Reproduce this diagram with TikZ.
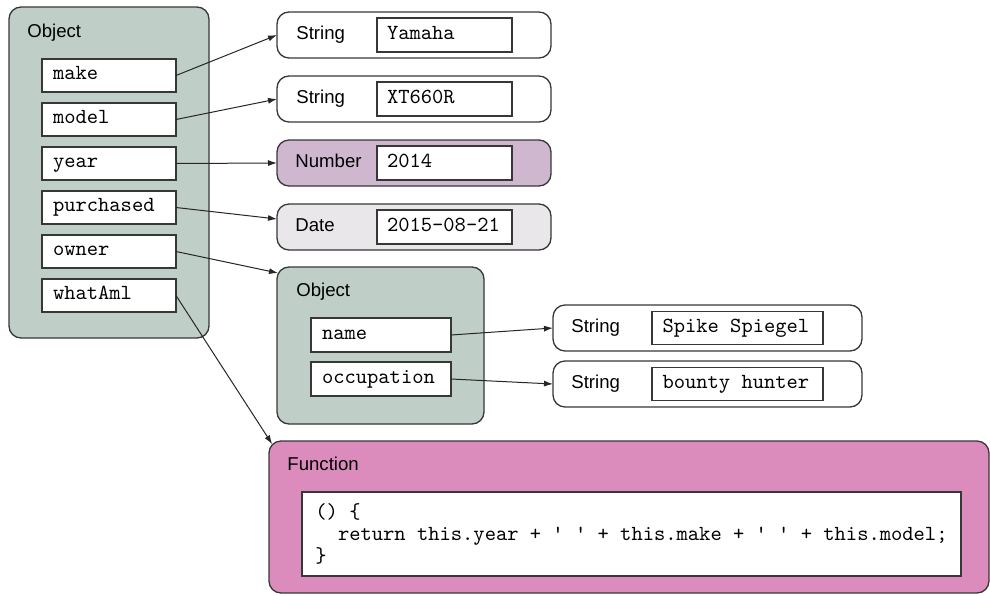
\documentclass[tikz,border=0pt]{standalone}
\usepackage{fontspec}
\setmainfont{Liberation Sans}
\setsansfont{Liberation Sans}
\usepackage{tikz}
\usetikzlibrary{arrows.meta,positioning}
\definecolor{objgreen}{RGB}{191,207,199}
\definecolor{numpurple}{RGB}{207,184,207}
\definecolor{dategray}{RGB}{233,231,233}
\definecolor{funcpink}{RGB}{219,140,188}
\definecolor{edgedark}{RGB}{55,55,55}
\newcommand{\labelfont}{\fontsize{9.3}{11}\selectfont\sffamily}
\newcommand{\monofont}{\fontsize{10.75}{11}\selectfont\ttfamily}
\newcommand{\tsp}{\hspace{0.525em}}
\tikzset{
  basecard/.style={rectangle,rounded corners=6pt,draw=edgedark,line width=0.65pt,outer sep=0pt,inner sep=0pt},
  objbox/.style={basecard,fill=objgreen},
  valcard/.style={basecard,fill=white,minimum width=137pt,minimum height=23pt},
  longcard/.style={basecard,fill=white,minimum width=154.5pt,minimum height=23pt},
  funcbox/.style={basecard,fill=funcpink,minimum width=360pt,minimum height=76pt},
  fieldbox/.style={rectangle,draw=edgedark,fill=white,line width=0.65pt,outer sep=0pt,
    inner xsep=5.5pt,inner ysep=0pt,minimum height=16.5pt,text width=56pt,align=left,
    text height=6.5pt,text depth=2.5pt,font=\monofont},
  valbox/.style={fieldbox,minimum height=17pt,text width=57.5pt,inner xsep=5pt},
  longvalbox/.style={fieldbox,text width=75pt,inner xsep=5.25pt},
  namebox/.style={fieldbox,minimum height=17pt,text width=59pt},
  codebox/.style={rectangle,draw=edgedark,fill=white,line width=0.65pt,outer sep=0pt,
    inner sep=0pt,minimum width=329.5pt,minimum height=42pt,align=left,font=\monofont},
  typelabel/.style={font=\labelfont,inner sep=0pt,anchor=west,text height=6.7pt,text depth=2pt},
  headlabel/.style={font=\labelfont,inner sep=0pt,anchor=base west},
  arr/.style={-{Latex[length=4.5pt,width=3pt]},line width=0.5pt,color=black!85}
}

\begin{document}
\begin{tikzpicture}[x=0.5pt,y=-0.5pt]
  \useasboundingbox (0,0) rectangle (990,595);

  % outer object with its fields
  \node[objbox,minimum width=100pt,minimum height=165.5pt,anchor=north west] (car) at (9,7) {};
  \node[headlabel] at ([shift={(9pt,-15pt)}]car.north west) {Object};
  \node[fieldbox,anchor=north west] (make) at ([shift={(16.5pt,-26pt)}]car.north west) {make};
  \node[fieldbox,below=5.5pt of make] (model) {model};
  \node[fieldbox,below=5.5pt of model] (year) {year};
  \node[fieldbox,below=5.5pt of year] (purchased) {purchased};
  \node[fieldbox,below=5.5pt of purchased] (owner) {owner};
  \node[fieldbox,below=5.5pt of owner] (whatami) {whatAml};

  % primitive values
  \node[valcard,anchor=north west] (yamaha) at (277,12) {};
  \node[valcard,below=9pt of yamaha] (xt) {};
  \node[valcard,fill=numpurple,below=9pt of xt] (num) {};
  \node[valcard,fill=dategray,below=9pt of num] (date) {};
  \node[typelabel] at ([xshift=9.5pt]yamaha.west) {String};
  \node[typelabel] at ([xshift=9.5pt]xt.west) {String};
  \node[typelabel] at ([xshift=9pt]num.west) {Number};
  \node[typelabel] at ([xshift=9pt]date.west) {Date};
  \node[valbox] (yamahaval) at ([xshift=83.75pt]yamaha.west) {Yamaha};
  \node[valbox] (xtval) at ([xshift=83.75pt]xt.west) {XT660R};
  \node[valbox] (numval) at ([xshift=83.75pt]num.west) {2014};
  \node[valbox] (dateval) at ([xshift=83.75pt]date.west) {2015-08-21};

  % owner object
  \node[objbox,minimum width=103.5pt,minimum height=78.5pt,anchor=north west] (person) at (277,267) {};
  \node[headlabel] at ([shift={(9.5pt,-14.5pt)}]person.north west) {Object};
  \node[namebox,anchor=north west] (name) at ([shift={(17pt,-25.5pt)}]person.north west) {name};
  \node[namebox,below=5pt of name] (occupation) {occupation};

  \node[longcard,anchor=north west] (spike) at (553,305) {};
  \node[longcard,below=5pt of spike] (hunter) {};
  \node[typelabel] at ([xshift=9pt]spike.west) {String};
  \node[typelabel] at ([xshift=9pt]hunter.west) {String};
  \node[longvalbox] (spikeval) at ([xshift=92.25pt]spike.west) {Spike\tsp Spiegel};
  \node[longvalbox] (hunterval) at ([xshift=92.25pt]hunter.west) {bounty\tsp hunter};

  % function value
  \node[funcbox,anchor=north west] (func) at (269,441) {};
  \node[headlabel] at ([shift={(9pt,-14.5pt)}]func.north west) {Function};
  \node[codebox,anchor=north west] (code) at ([shift={(16.5pt,-25.5pt)}]func.north west)
    {() \{\\\phantom{xx}return this.year + ' ' + this.make + ' ' + this.model;\\\}};

  % references
  \draw[arr] (make.east) -- (yamaha.west);
  \draw[arr] (model.east) -- (xt.west);
  \draw[arr] (year.east) -- (num.west);
  \draw[arr] (purchased.east) -- ([yshift=4pt]date.west);
  \draw[arr] (owner.east) -- ([shift={(0.5pt,-3pt)}]person.north west);
  \draw[arr] (whatami.east) -- ([shift={(1.6pt,-1.6pt)}]func.north west);
  \draw[arr] (name.east) -- (spike.west);
  \draw[arr] (occupation.east) -- (hunter.west);
\end{tikzpicture}
\end{document}
